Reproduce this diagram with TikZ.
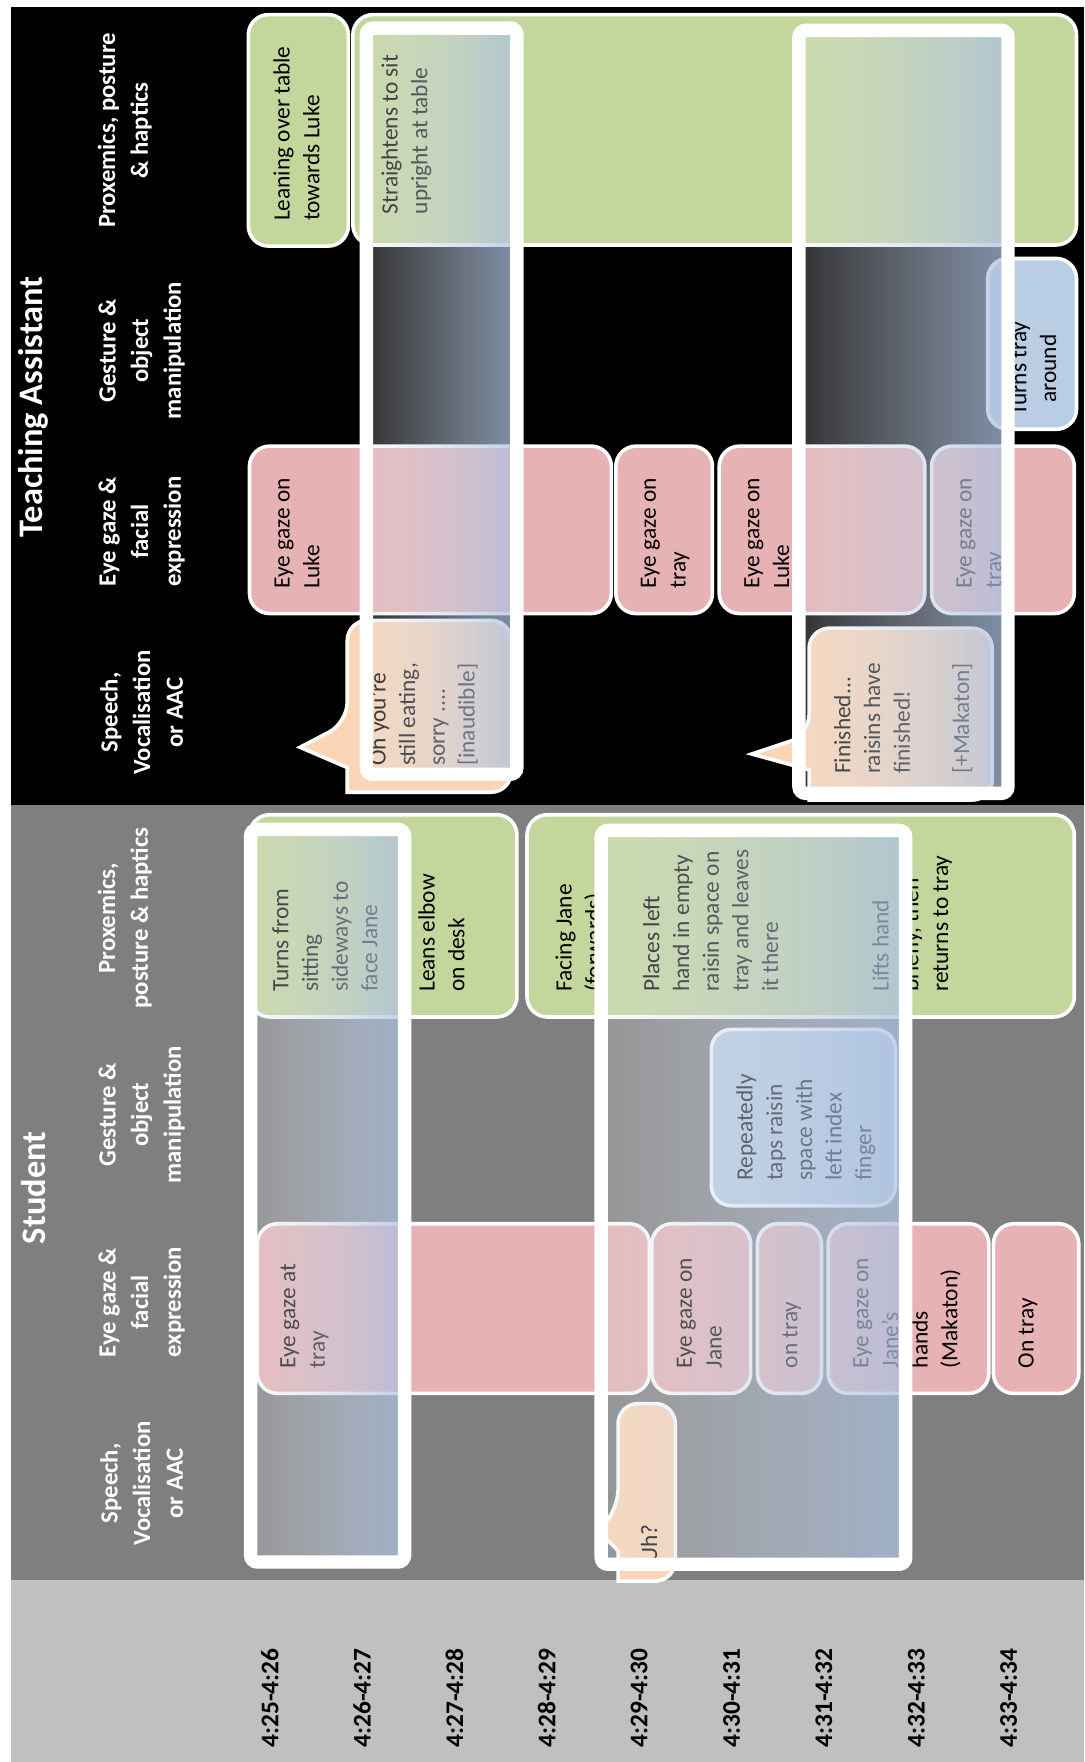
\documentclass[tikz,border=0pt]{standalone}
\usepackage{fontspec}
\setmainfont{Carlito}
\usetikzlibrary{fadings}
\definecolor{pinkbox}{RGB}{230,178,180}
\definecolor{greenbox}{RGB}{195,214,155}
\definecolor{bluebox}{RGB}{185,205,229}
\definecolor{peachbox}{RGB}{251,213,181}
\definecolor{stugray}{RGB}{127,127,127}
\definecolor{timegray}{RGB}{192,192,192}
\definecolor{hlleft}{RGB}{225,228,232}
\definecolor{hlright}{RGB}{170,192,225}
\tikzfading[name=hlfade, left color=transparent!78, right color=transparent!25]
\tikzset{
  cbox/.style={draw=white,line width=1.6pt,rounded corners=9pt},
  txt/.style={rotate=90,anchor=north west,align=left,inner xsep=11pt,inner ysep=11pt,font=\fontsize{10.4}{13.2}\selectfont},
  colhead/.style={rotate=90,align=center,text=white,font=\bfseries\fontsize{11}{14.5}\selectfont},
  secthead/.style={rotate=90,text=white,font=\bfseries\fontsize{15.3}{18}\selectfont},
  timelbl/.style={rotate=90,font=\bfseries\fontsize{11.3}{13}\selectfont},
  hlfill/.style={left color=hlleft,right color=hlright,path fading=hlfade},
  hlframe/.style={draw=white,line width=6pt,rounded corners=3pt}
}
\begin{document}
\begin{tikzpicture}[x=0.5pt,y=-0.5pt]
\useasboundingbox (0,0) rectangle (965,1568);
% nen
\fill[black] (10,6) rectangle (965,716);
\fill[stugray] (10,716) rectangle (965,1406);
\fill[timegray] (10,1406) rectangle (965,1568);
% tieu de
\path (30,362) node[secthead] (ta) {Teaching Assistant}
      (30,1057) node[secthead] (st) {Student};
\path (111,116) node[colhead] (ta-hp) {Proxemics, posture\\\& haptics}
      (126,312) node[colhead] (ta-hg) {Gesture \&\\object\\manipulation}
      (126,473) node[colhead] (ta-he) {Eye gaze \&\\facial\\expression}
      (126,634) node[colhead] (ta-hs) {Speech,\\Vocalisation\\or AAC}
      (111,817) node[colhead] (st-hp) {Proxemics,\\posture \& haptics}
      (126,992) node[colhead] (st-hg) {Gesture \&\\object\\manipulation}
      (126,1159) node[colhead] (st-he) {Eye gaze \&\\facial\\expression}
      (126,1320) node[colhead] (st-hs) {Speech,\\Vocalisation\\or AAC};
\foreach \lab [count=\i from 0] in {4:25-4:26,4:26-4:27,4:27-4:28,4:28-4:29,4:29-4:30,4:30-4:31,4:31-4:32,4:32-4:33,4:33-4:34}
  \node[timelbl] (t\i) at (240+82.2*\i,1511) {\lab};
% o mau
\foreach \xa/\ya/\xb/\yb/\col in {
  221/13/310/219/greenbox, 314/13/958/218/greenbox,
  879/230/958/382/bluebox,
  222/397/544/546/pinkbox, 548/397/634/546/pinkbox, 640/397/823/546/pinkbox, 829/397/956/546/pinkbox,
  222/725/460/905/greenbox, 469/725/956/905/greenbox,
  633/916/797/1073/bluebox,
  229/1089/578/1240/pinkbox, 580/1089/668/1240/pinkbox, 674/1089/731/1240/pinkbox,
  737/1089/880/1240/pinkbox, 884/1089/960/1240/pinkbox}
  \draw[cbox,fill=\col] (\xa,\ya) rectangle (\xb,\yb);
% loi noi
\draw[cbox,fill=peachbox] (455,552) [rounded corners=9pt] -- (309,552) -- (309,643) [sharp corners] -- (267,665) -- (309,683) -- (309,705) [rounded corners=9pt] -- (455,705) -- cycle;
\draw[cbox,fill=peachbox] (883,559) [rounded corners=9pt] -- (720,559) -- (720,654) [sharp corners] -- (669,671) -- (720,685) -- (720,712) [rounded corners=9pt] -- (883,712) -- cycle;
\draw[cbox,fill=peachbox] (601,1249) [rounded corners=9pt] -- (550,1249) -- (550,1344) [sharp corners] -- (532,1362) -- (550,1380) -- (550,1407) [rounded corners=9pt] -- (601,1407) -- cycle;
% chu
\path (221,219) node[txt] (ta-p1) {Leaning over table\\towards Luke}
      (317,213) node[txt] (ta-p2) {Straightens to sit\\upright at table}
      (920,328) node[txt,anchor=center,align=center,inner sep=0pt] (ta-g1) {Turns tray\\around}
      (222,546) node[txt] (ta-e1) {Eye gaze on\\Luke}
      (548,546) node[txt] (ta-e2) {Eye gaze on\\tray}
      (640,546) node[txt] (ta-e3) {Eye gaze on\\Luke}
      (829,546) node[txt] (ta-e4) {Eye gaze on\\tray}
      (306,704) node[txt] (ta-s1) {Oh you're\\still eating,\\sorry ....\\{[inaudible]}}
      (720,711) node[txt] (ta-s2) {Finished...\\raisins have\\finished!\\[13.2pt]{[+Makaton]}};
\path (220,905) node[txt] (st-p1) {Turns from\\sitting\\sideways to\\face Jane}
      (350,905) node[txt] (st-p2) {Leans elbow\\on desk}
      (472,905) node[txt] (st-p3) {Facing Jane\\(forwards)}
      (550,905) node[txt] (st-p4) {Places left\\hand in empty\\raisin space on\\tray and leaves\\it there}
      (754,905) node[txt] (st-p5) {Lifts hand\\briefly, then\\returns to tray}
      (633,1073) node[txt] (st-g1) {Repeatedly\\taps raisin\\space with\\left index\\finger}
      (227,1240) node[txt] (st-e1) {Eye gaze at\\tray}
      (580,1240) node[txt] (st-e2) {Eye gaze on\\Jane}
      (674,1240) node[txt] (st-e3) {on tray}
      (737,1240) node[txt] (st-e4) {Eye gaze on\\Jane's\\hands\\(Makaton)}
      (884,1240) node[txt] (st-e5) {On tray}
      (548,1413) node[txt] (st-s1) {Uh?};
% khung noi bat
\foreach \xa/\ya/\xb/\yb in {223/738/360/1390, 535/739/806/1392, 326/25/460/689, 711/27/897/706}{
  \path[hlfill] (\xa,\ya) rectangle (\xb,\yb);
  \draw[hlframe] (\xa,\ya) rectangle (\xb,\yb);
}
\end{tikzpicture}
\end{document}
